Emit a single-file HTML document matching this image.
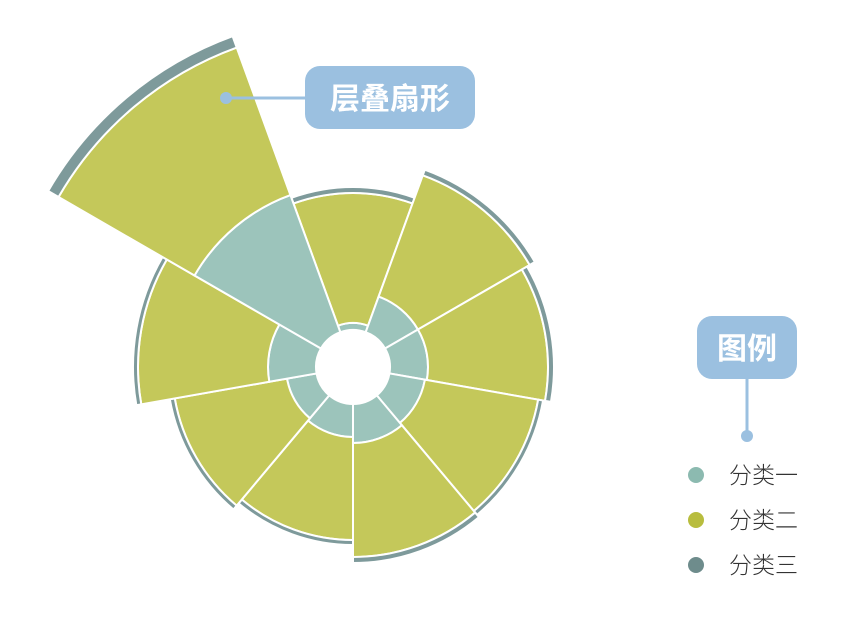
<!DOCTYPE html>
<html><head><meta charset="utf-8"><style>
html,body{margin:0;padding:0;background:#fff;}
body{width:850px;height:634px;overflow:hidden;font-family:"Liberation Sans","Noto Sans CJK SC",sans-serif;}
</style></head><body>
<svg id="chart" width="850" height="634" viewBox="0 0 850 634" xmlns="http://www.w3.org/2000/svg">
<g id="sectors"></g>
<g>
<line x1="226" y1="98" x2="306" y2="98" stroke="#9bc0e0" stroke-width="3"/>
<circle cx="226" cy="98" r="6" fill="#9bc0e0"/>
<rect x="305" y="66" width="170" height="63" rx="15" fill="#9bc0e0"/>
<text x="390" y="109" text-anchor="middle" font-size="30" font-weight="bold" fill="#fff" font-family="'Liberation Sans','Noto Sans CJK SC',sans-serif">层叠扇形</text>
</g>
<g>
<rect x="697" y="316" width="100" height="63" rx="15" fill="#9bc0e0"/>
<text x="747" y="359" text-anchor="middle" font-size="30" font-weight="bold" fill="#fff" font-family="'Liberation Sans','Noto Sans CJK SC',sans-serif">图例</text>
<line x1="747" y1="379" x2="747" y2="436" stroke="#9bc0e0" stroke-width="3"/>
<circle cx="747" cy="436" r="6" fill="#9bc0e0"/>
<g id="legendItems"></g>
</g>
</svg>
<script>
const categories = ["A","B","C","D","E","F","G","H","I"];
const series1 = [7,38,38,36,39,33,30,48,146];
const series2 = [130,129,120,115,114,103,114,130,157];
const series3 = [6,6,6,5,6,5,5,5,12];
const seriesNames = ["分类一","分类二","分类三"];
const seriesColors = ["#9cc4bb","#c4c85a","#7e9a9b"];
const legendColors = ["#8cbab0","#b8bd3e","#6e8c8c"];

const cx = 353, cy = 367, r0 = 37;
const n = categories.length;
const step = 360 / n;
function rScale(v){ return r0 + v; }
function angleScale(i){ return (i * step - step/2) * Math.PI / 180; }
function pt(r,a){ return [cx + r*Math.sin(a), cy - r*Math.cos(a)]; }
function arcPath(ri, ro, a0, a1){
  const p1=pt(ro,a0), p2=pt(ro,a1), p3=pt(ri,a1), p4=pt(ri,a0);
  return `M${p1[0]},${p1[1]} A${ro},${ro} 0 0 1 ${p2[0]},${p2[1]} L${p3[0]},${p3[1]} A${ri},${ri} 0 0 0 ${p4[0]},${p4[1]} Z`;
}
const g = document.getElementById('sectors');
const all = [series1, series2, series3];
categories.forEach((c,i)=>{
  let base = 0;
  const a0 = angleScale(i), a1 = angleScale(i+1);
  all.forEach((s,k)=>{
    const ri = rScale(base), ro = rScale(base + s[i]);
    base += s[i];
    const p = document.createElementNS('http://www.w3.org/2000/svg','path');
    p.setAttribute('d', arcPath(ri, ro, a0, a1));
    p.setAttribute('fill', seriesColors[k]);
    p.setAttribute('stroke', '#fff');
    p.setAttribute('stroke-width', '2');
    
    
    g.appendChild(p);
  });
});
const lg = document.getElementById('legendItems');
seriesNames.forEach((nm,k)=>{
  const y = 475 + k*45;
  const dot = document.createElementNS('http://www.w3.org/2000/svg','circle');
  dot.setAttribute('cx', 696); dot.setAttribute('cy', y); dot.setAttribute('r', 8);
  dot.setAttribute('fill', legendColors[k]);
  
  
  lg.appendChild(dot);
  const t = document.createElementNS('http://www.w3.org/2000/svg','text');
  t.setAttribute('x', 729); t.setAttribute('y', y + 8);
  t.setAttribute('font-size', 23); t.setAttribute('fill', '#333');
  t.setAttribute('font-weight', '300');
  t.textContent = nm;
  
  
  lg.appendChild(t);
});
</script>
</body></html>
